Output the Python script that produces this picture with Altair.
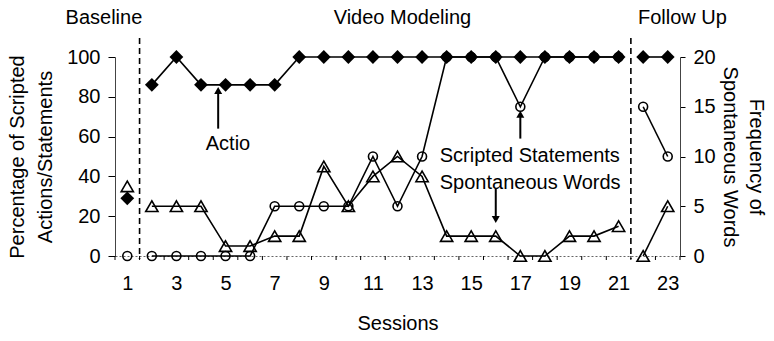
import altair as alt
import pandas as pd

# ---- data ----
sessions = list(range(1, 24))
phases = ["Baseline"] + ["Video Modeling"] * 20 + ["Follow Up"] * 2
actions = [29, 86, 100, 86, 86, 86, 86, 100, 100, 100, 100, 100, 100, 100,
           100, 100, 100, 100, 100, 100, 100, 100, 100]
scripted = [0, 0, 0, 0, 0, 0, 25, 25, 25, 25, 50, 25, 50, 100, 100, 100,
            75, 100, 100, 100, 100, 75, 50]
spontaneous = [7, 5, 5, 5, 1, 1, 2, 2, 9, 5, 8, 10, 8, 2, 2, 2, 0, 0, 2, 2,
               3, 0, 5]

x_label_values = [1, 3, 5, 7, 9, 11, 13, 15, 17, 19, 21, 23]
x_tick_positions = [i + 0.5 for i in range(0, 24)]
left_ticks = [0, 20, 40, 60, 80, 100]
right_ticks = [0, 5, 10, 15, 20]

phase_lines = [1.5, 21.5]
phase_titles = ["Baseline", "Video Modeling", "Follow Up"]
phase_title_x = [0.05, 12.2, 23.6]

note_text = ["Actio", "Scripted Statements", "Spontaneous Words"]
note_x = [5.1, 13.72, 13.72]
note_y = [56.5, 50.5, 36.5]
note_align = ["center", "left", "left"]

arrow_x = [4.7, 17.0, 16.0]
arrow_tail = [64, 59, 34]
arrow_head = [85, 73, 16.5]
arrow_shape = ["triangle-up", "triangle-up", "triangle-down"]

FONT = "Liberation Sans"
W, H = 565, 199

df = pd.DataFrame({"session": sessions, "phase": phases, "actions": actions,
                   "scripted": scripted, "spont": spontaneous})
notes = pd.DataFrame({"x": note_x, "y": note_y, "text": note_text, "align": note_align})
arrows = pd.DataFrame({"x": arrow_x, "tail": arrow_tail, "head": arrow_head,
                       "shape": arrow_shape})
arrows["tip_center"] = [h - 1.8 if s == "triangle-up" else h + 1.8
                        for h, s in zip(arrows["head"], arrows["shape"])]
ptitles = pd.DataFrame({"x": phase_title_x, "text": phase_titles})
plines = pd.DataFrame({"x": phase_lines})
xticks = pd.DataFrame({"x": x_tick_positions})

xscale = alt.Scale(domain=[0.5, 23.5], nice=False, zero=False)
xaxis = alt.Axis(values=x_label_values, title="Sessions", tickSize=0,
                 labelFontSize=20, titleFontSize=20, titleFontWeight="normal",
                 labelPadding=17, titlePadding=20, domainColor="#666",
                 domainDash=[2, 2], labelColor="black", titleColor="black",
                 grid=False, format="d", labelFlush=False)

yscale = alt.Scale(domain=[0, 100], nice=False, zero=True)
yaxis = alt.Axis(values=left_ticks, title=["Percentage of Scripted", "Actions/Statements"],
                 tickSize=7, tickColor="black", labelPadding=8, labelFontSize=20,
                 titleFontSize=20, titleFontWeight="normal", titleLineHeight=28,
                 titlePadding=11, domainColor="#444", labelColor="black",
                 titleColor="black", grid=False)

y2scale = alt.Scale(domain=[0, 20], nice=False, zero=True)
y2axis = alt.Axis(values=right_ticks, orient="right",
                  title=["Frequency of", "Spontaneous Words"], titleAngle=90,
                  tickSize=5, tickColor="black", labelPadding=8, labelFontSize=20,
                  titleFontSize=20, titleFontWeight="normal", titleLineHeight=26,
                  titlePadding=4, domainColor="#444", labelColor="black",
                  titleColor="black", grid=False)


def XA(f):
    return alt.X(f, scale=xscale, axis=xaxis)


def YA(f):
    return alt.Y(f, scale=yscale, axis=yaxis)


base = alt.Chart(df)

scripted_line = base.mark_line(color="black", strokeWidth=1.6).encode(
    x=XA("session:Q"), y=YA("scripted:Q"), detail="phase:N")
scripted_pts = base.mark_point(shape="circle", filled=False, color="black",
                               size=80, strokeWidth=1.6, opacity=1).encode(
    x=XA("session:Q"), y=YA("scripted:Q"))
actions_line = base.mark_line(color="black", strokeWidth=1.6).encode(
    x=XA("session:Q"), y=YA("actions:Q"), detail="phase:N")
actions_pts = base.mark_point(shape="diamond", filled=True, color="black",
                              size=190, opacity=1).encode(
    x=XA("session:Q"), y=YA("actions:Q"))

phase_rules = alt.Chart(plines).mark_rule(color="black", strokeWidth=1.6,
                                          strokeDash=[6, 4]).encode(
    x=XA("x:Q"), y=alt.value(-19), y2=alt.value(H + 3))
tick_rules = alt.Chart(xticks).mark_rule(color="black", strokeWidth=1).encode(
    x=XA("x:Q"), y=alt.value(H), y2=alt.value(H + 4))
phase_text = alt.Chart(ptitles).mark_text(fontSize=20, font=FONT, color="black",
                                          baseline="alphabetic").encode(
    x=XA("x:Q"), y=alt.value(-33), text="text:N")
note_center = alt.Chart(notes[notes["align"] == "center"]).mark_text(
    fontSize=20, font=FONT, color="black", baseline="middle", align="center").encode(
    x=XA("x:Q"), y=YA("y:Q"), text="text:N")
note_left = alt.Chart(notes[notes["align"] == "left"]).mark_text(
    fontSize=20, font=FONT, color="black", baseline="middle", align="left").encode(
    x=XA("x:Q"), y=YA("y:Q"), text="text:N")
arrow_shafts = alt.Chart(arrows).mark_rule(color="black", strokeWidth=2).encode(
    x=XA("x:Q"), y=YA("tail:Q"), y2="tip_center:Q")
arrow_heads = alt.Chart(arrows).mark_point(filled=True, color="black", size=64,
                                           opacity=1).encode(
    x=XA("x:Q"), y=YA("tip_center:Q"),
    shape=alt.Shape("shape:N", scale=None, legend=None))

left = alt.layer(scripted_line, scripted_pts, actions_line, actions_pts,
                 phase_rules, tick_rules, phase_text, note_center, note_left,
                 arrow_shafts, arrow_heads)

right_line = base.mark_line(color="black", strokeWidth=1.6).encode(
    x=XA("session:Q"), y=alt.Y("spont:Q", scale=y2scale, axis=y2axis),
    detail="phase:N")
right_pts = base.mark_point(shape="triangle-up", filled=False, color="black",
                            size=150, strokeWidth=1.6, opacity=1).encode(
    x=XA("session:Q"), y=alt.Y("spont:Q", scale=y2scale, axis=y2axis))
right = alt.layer(right_line, right_pts)

chart = alt.layer(left, right).resolve_scale(y="independent").properties(
    width=W, height=H,
    autosize=alt.AutoSizeParams(type="none"),
    padding={"left": 107, "top": 49, "right": 86, "bottom": 76},
).configure(font=FONT, view=alt.ViewConfig(strokeWidth=0))

chart.save("out.html", embed_options={"renderer": "svg", "actions": False})
